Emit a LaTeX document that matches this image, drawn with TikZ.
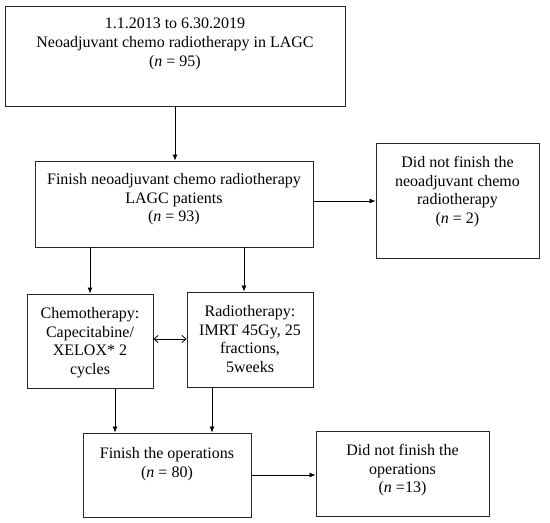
\documentclass[tikz,border=0pt]{standalone}
\usepackage{fontspec}
\setmainfont{Liberation Serif}
\usetikzlibrary{arrows.meta,calc}
\newcommand{\bxtext}[4]{\parbox[c][#2pt][t]{#1pt}{\centering\vspace*{#3pt}#4}}
\begin{document}
\begin{tikzpicture}[x=1pt,y=-1pt,
  box/.style={draw=black!85, line width=0.9pt, inner sep=0pt, font=\fontsize{16}{18.7}\selectfont},
  arr/.style={line width=0.8pt, -{Latex[length=6pt,width=5pt]}},
  darr/.style={line width=0.8pt, {Straight Barb[length=4pt,width=7pt]}-{Straight Barb[length=4pt,width=7pt]}}]
\useasboundingbox (0,0) rectangle (550,523);
\node[box] (B1) at (175,56) {\bxtext{340}{100}{12.3}{1.1.2013 to 6.30.2019\\Neoadjuvant chemo radiotherapy in LAGC\\(\textit{n} = 95)}};
\node[box] (B2) at (174,204) {\bxtext{278}{86}{12.3}{Finish neoadjuvant chemo radiotherapy\\LAGC patients\\(\textit{n} = 93)}};
\node[box] (B3) at (457.5,200.5) {\bxtext{163}{115}{13.3}{Did not finish the\\neoadjuvant chemo\\radiotherapy\\(\textit{n} = 2)}};
\node[box] (C) at (90,341) {\bxtext{126}{94}{13.3}{Chemotherapy:\\Capecitabine/\\XELOX* 2\\cycles}};
\node[box] (R) at (250,339.5) {\bxtext{126}{95}{13.3}{Radiotherapy:\\IMRT 45Gy, 25\\fractions,\\5weeks}};
\node[box] (F) at (167,475) {\bxtext{168}{84}{14.3}{Finish the operations\\(\textit{n} = 80)}};
\node[box] (D) at (402.5,473.5) {\bxtext{173}{85}{13.3}{Did not finish the\\operations\\(\textit{n} =13)}};
\draw[arr] (B1.south) -- (B1.south |- B2.north);
\draw[arr] ([yshift=3pt]B2.east) -- ([yshift=3pt]B2.east -| B3.west);
\draw[arr] (C.north |- B2.south) -- (C.north);
\draw[arr] ([xshift=-6pt]R.north |- B2.south) -- ([xshift=-6pt]R.north);
\draw[darr] ([yshift=2pt]C.east) -- ([yshift=2pt]C.east -| R.west);
\draw[arr] ([xshift=25pt]C.south) -- ([xshift=25pt]C.south |- F.north);
\draw[arr] ([xshift=-38pt]R.south) -- ([xshift=-38pt]R.south |- F.north);
\draw[arr] (F.east) -- (F.east -| D.west);
\end{tikzpicture}
\end{document}
